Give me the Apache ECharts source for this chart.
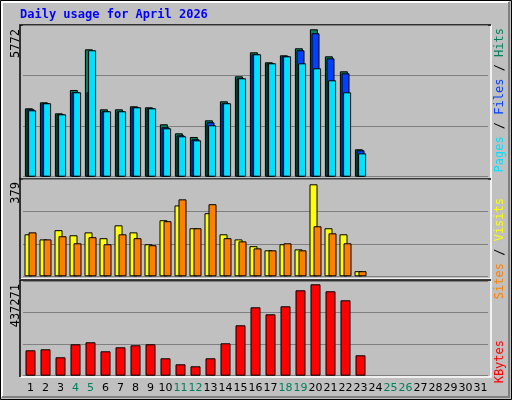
<!DOCTYPE html>
<html><head><meta charset="utf-8">
<script src="https://cdn.jsdelivr.net/npm/echarts@6/dist/echarts.min.js"></script>
<style>html,body{margin:0;padding:0;background:#c0c0c0}#c{width:512px;height:400px}</style>
</head><body><div id="c"></div>
<script>
const days = Array.from({length:31},(_,i)=>String(i+1));
const weekendDays = ['4','5','11','12','18','19','25','26'];
const hits  = [2678,2913,2482,3395,4988,2639,2639,2757,2717,2052,1699,1555,2208,2952,3931,4871,4480,4754,5028,5772,4714,4127,1073];
const files = [2640,2875,2443,3305,3305,2561,2561,2717,2678,1934,1621,1464,2130,2875,3853,4793,4440,4714,4950,5615,4636,4049,1034];
const pages = [2600,2875,2443,3305,4950,2561,2561,2717,2678,1895,1582,1425,2013,2875,3853,4793,4440,4714,4440,4245,3775,3305,916];
const visits = [173,152,190,169,181,157,210,181,132,231,292,198,260,173,152,124,107,132,111,379,198,173,21];
const sites  = [181,152,165,136,161,132,173,157,128,227,317,198,297,157,144,115,107,136,107,206,177,136,21];
const kbytes = [121500,126300,88000,150200,159800,116700,135900,145400,150200,83200,54500,45000,83200,155000,241100,327200,293700,332000,408600,437271,403800,360700,97600];
const maxLabels = ['5772','379','437271'];

const c = echarts.init(document.getElementById('c'));
const bs = {borderColor:'#000',borderWidth:1};
const grids = [
  {left:23,width:465,top:25.2,height:151.5},
  {left:23,width:465,top:179.3,height:97},
  {left:23,width:465,top:281.2,height:94.5}
];
const axMax = [5932,399.6,452100];
function frame(x,y,w,h){return [
  {type:'polyline',shape:{points:[[x,y+h],[x+w,y+h],[x+w,y]]},style:{stroke:'#fff',lineWidth:1.5,fill:null}},
  {type:'polyline',shape:{points:[[x,y+h],[x,y],[x+w,y]]},style:{stroke:'#000',lineWidth:1.5,fill:null}}
];}
function rot(x,y,text,fill){return {type:'text',x:x,y:y,rotation:Math.PI/2,style:{text:text,fill:fill,font:'12px "DejaVu Sans Mono"',align:'right',verticalAlign:'middle'}};}
c.setOption({
  backgroundColor:'#c0c0c0',
  animation:false,
  grid:grids,
  xAxis:grids.map((g,i)=>({gridIndex:i,type:'category',data:days,
    axisLine:{show:false},axisTick:{show:false},
    axisLabel:i===2?{show:true,interval:0,margin:7,fontFamily:'DejaVu Sans',fontSize:11,
      color:(v)=>weekendDays.includes(v)?'#00805c':'#000'}:{show:false}})),
  yAxis:grids.map((g,i)=>({gridIndex:i,type:'value',min:0,max:axMax[i],interval:axMax[i]/3,
    axisLabel:{show:false},axisLine:{show:false},axisTick:{show:false},
    splitLine:{lineStyle:{color:'#808080',width:1}}})),
  series:[
    {type:'bar',xAxisIndex:0,yAxisIndex:0,data:hits,barWidth:8,barGap:'-80%',itemStyle:{color:'#00805c',...bs}},
    {type:'bar',xAxisIndex:0,yAxisIndex:0,data:files,barWidth:8,barGap:'-80%',itemStyle:{color:'#0040ff',...bs}},
    {type:'bar',xAxisIndex:0,yAxisIndex:0,data:pages,barWidth:8,barGap:'-80%',itemStyle:{color:'#00e0ff',...bs}},
    {type:'bar',xAxisIndex:1,yAxisIndex:1,data:visits,barWidth:8,barGap:'-50%',itemStyle:{color:'#ffff00',...bs}},
    {type:'bar',xAxisIndex:1,yAxisIndex:1,data:sites,barWidth:8,barGap:'-50%',itemStyle:{color:'#ff8000',...bs}},
    {type:'bar',xAxisIndex:2,yAxisIndex:2,data:kbytes,barWidth:10,itemStyle:{color:'#ff0000',...bs}}
  ],
  graphic:[
    {type:'rect',shape:{x:0.5,y:0.5,width:511,height:399},style:{fill:null,stroke:'#000',lineWidth:1}},
    {type:'polyline',shape:{points:[[2,397],[2,2],[509,2]]},style:{stroke:'#fff',lineWidth:2,fill:null}},
    {type:'polyline',shape:{points:[[2,397],[509,397],[509,2]]},style:{stroke:'#808080',lineWidth:2,fill:null}},
    ...frame(20,25,471,154),...frame(20,179,471,100),...frame(20,280,471,97),
    {type:'text',x:20,y:15,style:{text:'Daily usage for April 2026',fill:'#0000ff',font:'bold 12px "DejaVu Sans Mono"',verticalAlign:'middle'}},
    rot(16,29,maxLabels[0],'#000'),
    rot(16,182,maxLabels[1],'#000'),
    rot(16,284,maxLabels[2],'#000'),
    {type:'text',x:500,y:28,rotation:Math.PI/2,style:{rich:{p:{fill:'#00e0ff',font:'12px "DejaVu Sans Mono"'},f:{fill:'#0040ff',font:'12px "DejaVu Sans Mono"'},h:{fill:'#00805c',font:'12px "DejaVu Sans Mono"'},s:{fill:'#000',font:'12px "DejaVu Sans Mono"'}},
      text:'{p|Pages}{s| / }{f|Files}{s| / }{h|Hits}',align:'right',verticalAlign:'middle'}},
    {type:'text',x:500,y:198,rotation:Math.PI/2,style:{rich:{v:{fill:'#ffff00',font:'12px "DejaVu Sans Mono"'},t:{fill:'#ff8000',font:'12px "DejaVu Sans Mono"'},s:{fill:'#000',font:'12px "DejaVu Sans Mono"'}},
      text:'{t|Sites}{s| / }{v|Visits}',align:'right',verticalAlign:'middle'}},
    {type:'text',x:500,y:340,rotation:Math.PI/2,style:{text:'KBytes',fill:'#ff0000',font:'12px "DejaVu Sans Mono"',align:'right',verticalAlign:'middle'}}
  ]
});
</script></body></html>
